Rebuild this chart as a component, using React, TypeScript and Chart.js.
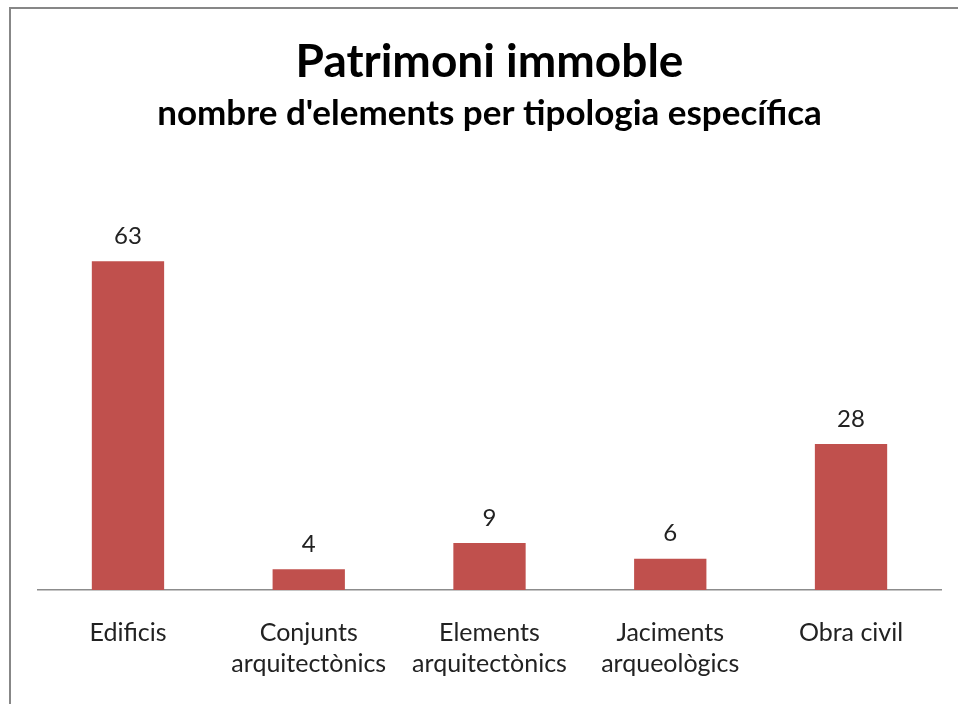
import React, { useEffect, useRef } from "react";
import { Chart, registerables } from "chart.js";

Chart.register(...registerables);

const categories: (string | string[])[] = [
  "Edificis",
  ["Conjunts", "arquitectònics"],
  ["Elements", "arquitectònics"],
  ["Jaciments", "arqueològics"],
  "Obra civil",
];
const values: number[] = [63, 4, 9, 6, 28];
const titleText = "Patrimoni immoble";
const subtitleText = "nombre d'elements per tipologia específica";

const FONT = "Lato, 'Open Sans', sans-serif";

const bgBorderPlugin = {
  id: "bgBorder",
  beforeDraw(chart: any) {
    const { ctx, width, height } = chart;
    ctx.save();
    ctx.fillStyle = "#ffffff";
    ctx.fillRect(0, 0, width, height);
    ctx.fillStyle = "#878787";
    ctx.fillRect(9, 7, 2, height - 7);
    ctx.fillRect(9, 7, width - 9, 2);
    ctx.restore();
  },
};

const valueLabelPlugin = {
  id: "valueLabels",
  afterDatasetsDraw(chart: any) {
    const { ctx } = chart;
    const meta = chart.getDatasetMeta(0);
    ctx.save();
    ctx.font = `24px ${FONT}`;
    ctx.fillStyle = "#222222";
    ctx.textAlign = "center";
    ctx.textBaseline = "middle";
    meta.data.forEach((bar: any, i: number) => {
      ctx.fillText(String(values[i]), bar.x, bar.y - 25);
    });
    ctx.restore();
  },
};

export default function App() {
  const ref = useRef<HTMLCanvasElement | null>(null);
  useEffect(() => {
    if (!ref.current) return;
    const chart = new Chart(ref.current, {
      type: "bar",
      data: {
        labels: categories,
        datasets: [
          {
            data: values,
            backgroundColor: "#C0504D",
            borderWidth: 0,
            categoryPercentage: 1,
            barPercentage: 0.4,
          },
        ],
      },
      options: {
        responsive: false,
        animation: false,
        devicePixelRatio: 1,
        layout: { padding: { left: 37.6, right: 16.6, top: 0, bottom: 0 } },
        plugins: {
          legend: { display: false },
          tooltip: { enabled: false },
          title: {
            display: true,
            text: titleText,
            color: "#000000",
            font: { family: FONT, size: 46, weight: "bold", lineHeight: 1.2 },
            padding: { top: 34.5, bottom: 3.5 },
          },
          subtitle: {
            display: true,
            text: subtitleText,
            color: "#000000",
            font: { family: FONT, size: 35, weight: "bold", lineHeight: 1.2 },
            padding: { top: 0, bottom: 89.5 },
          },
        },
        scales: {
          x: {
            grid: { display: false, drawTicks: false },
            border: { display: true, color: "#8c8c8c", width: 1.5 },
            afterFit(scale: any) {
              scale.height = 114;
            },
            ticks: {
              color: "#222222",
              font: { family: FONT, size: 25, lineHeight: 1.24 },
              padding: 27.5,
              maxRotation: 0,
              autoSkip: false,
            },
          },
          y: {
            display: false,
            min: 0,
            max: 70,
          },
        },
      },
      plugins: [bgBorderPlugin, valueLabelPlugin],
    });
    return () => chart.destroy();
  }, []);
  return (
    <div style={{ position: "fixed", left: 0, top: 0, width: 958, height: 704 }}>
      <canvas ref={ref} width={958} height={704} />
    </div>
  );
}
